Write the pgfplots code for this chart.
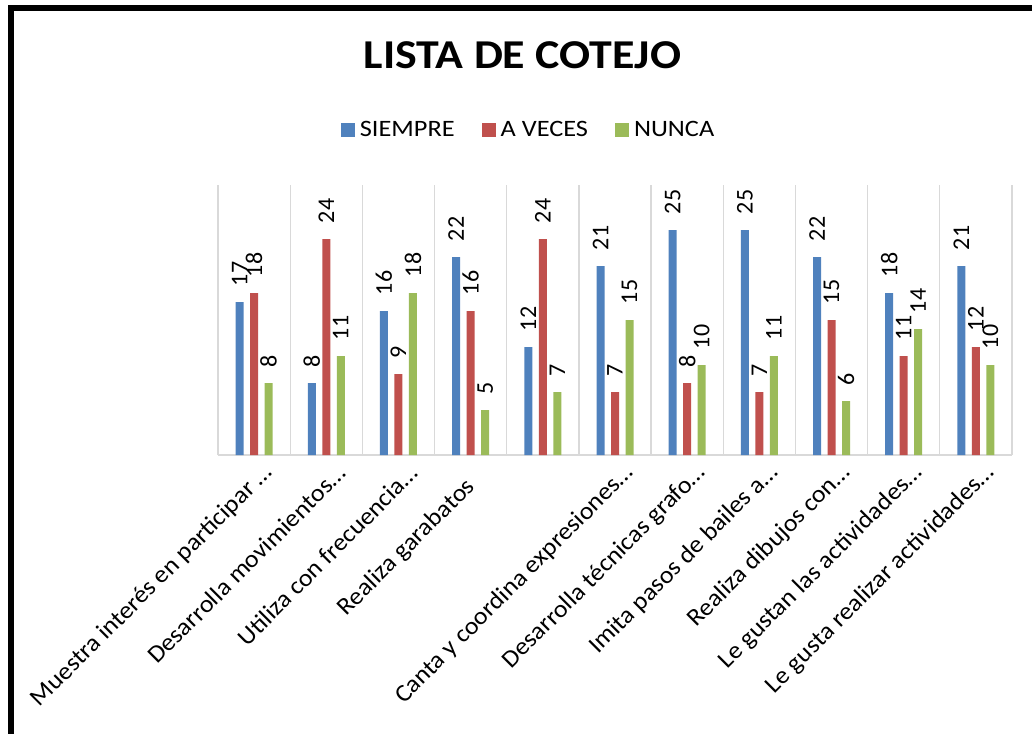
\documentclass[border=0pt]{standalone}
\usepackage{fontspec}
\setmainfont{Carlito}[FakeStretch=1.12]
\newfontfamily\plainfont{Carlito}
\newfontfamily\midfont{Carlito}[FakeStretch=1.06]
\usepackage{pgfplots}
\pgfplotsset{compat=1.18}
\definecolor{cblue}{HTML}{4F81BD}
\definecolor{cred}{HTML}{C0504D}
\definecolor{cgreen}{HTML}{9BBB59}
\definecolor{cgrid}{HTML}{D9D9D9}
\begin{document}
\begin{tikzpicture}
\begin{axis}[
  at={(0pt,0pt)}, anchor=south west, scale only axis,
  width=794pt, height=270pt,
  ybar=6.5pt, bar width=8pt,
  xmin=-0.5, xmax=10.5, ymin=0, ymax=30,
  axis x line*=bottom, axis y line=none,
  x axis line style={draw=cgrid, line width=1.5pt, -},
  xtick={0,...,10}, major tick length=0pt,
  minor xtick={-0.5,0.5,...,10.5}, minor tick length=0pt, xminorgrids=true,
  minor grid style={draw=cgrid, line width=1.2pt},
  ytick=\empty,
  xticklabels={Muestra interés en participar …, Desarrolla movimientos…, Utiliza con frecuencia…, Realiza garabatos\rule{20pt}{0pt}, {}, Canta y coordina expresiones…, Desarrolla técnicas grafo…, Imita pasos de bailes a…, Realiza dibujos con…, Le gustan las actividades…, Le gusta realizar actividades…},
  xticklabel style={xshift=15pt, yshift=-14pt, rotate=45, anchor=east, inner sep=0pt, font=\midfont\fontsize{24.5}{24.5}\selectfont, text=black},
  nodes near coords,
  nodes near coords style={font=\plainfont\fontsize{24}{24}\selectfont, rotate=90, anchor=west, inner sep=0pt, outer xsep=16pt, text=black},
  /pgf/number format/assume math mode=true,
  clip=false,
  legend columns=3,
  legend style={at={(axis description cs:0.393,1.204)}, anchor=center, draw=none, fill=none,
    font=\fontsize{23.5}{23.5}\selectfont, nodes={inner xsep=5pt}},
  legend image code/.code={\fill[#1] (0pt,-7pt) rectangle (14pt,7pt);},
]
\addplot[fill=cblue, draw=none] coordinates {(0,17) (1,8) (2,16) (3,22) (4,12) (5,21) (6,25) (7,25) (8,22) (9,18) (10,21)};
\addplot[fill=cred, draw=none] coordinates {(0,18) (1,24) (2,9) (3,16) (4,24) (5,7) (6,8) (7,7) (8,15) (9,11) (10,12)};
\addplot[fill=cgreen, draw=none] coordinates {(0,8) (1,11) (2,18) (3,5) (4,7) (5,15) (6,10) (7,11) (8,6) (9,14) (10,10)};
\legend{SIEMPRE\rule{22pt}{0pt}, A VECES\rule{22pt}{0pt}, NUNCA}
\end{axis}
\node[font=\fontsize{41}{41}\selectfont\bfseries, anchor=base] at (304.5pt,386pt) {LISTA DE COTEJO};
\draw[line width=6pt, line join=miter] (-207pt,-300pt) -- (-207pt,447pt) -- (830pt,447pt);
\pgfresetboundingbox
\useasboundingbox (-218pt,-278pt) rectangle (814pt,455pt);
\end{tikzpicture}
\end{document}
